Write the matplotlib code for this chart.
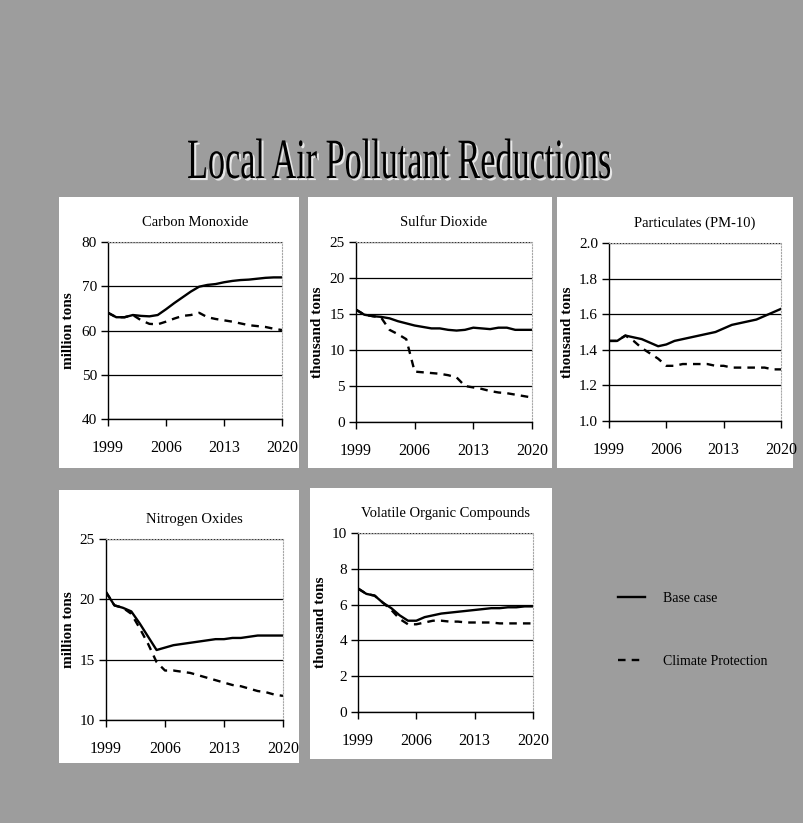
import matplotlib
matplotlib.use("Agg")
import matplotlib.pyplot as plt
from matplotlib.colors import to_rgba
from matplotlib.patches import Rectangle
from matplotlib.patheffects import AbstractPathEffect
from matplotlib.transforms import Affine2D

plt.rcParams["font.family"] = ["Liberation Serif", "DejaVu Serif"]

years = list(range(1999, 2021))
year_ticks = [1999, 2006, 2013, 2020]

co_base = [64.0, 63.0, 63.0, 63.5, 63.3, 63.2, 63.5, 64.8, 66.2, 67.5, 68.8,
           69.9, 70.3, 70.5, 70.9, 71.2, 71.4, 71.5, 71.7, 71.9, 72.0, 72.0]
co_climate = [64.0, 63.0, 63.0, 63.5, 62.3, 61.5, 61.4, 62.0, 62.7, 63.3, 63.5,
              64.0, 63.0, 62.6, 62.3, 62.0, 61.6, 61.2, 61.0, 60.8, 60.4, 60.1]

so2_base = [15.6, 14.9, 14.7, 14.6, 14.4, 14.0, 13.7, 13.4, 13.2, 13.0, 13.0,
            12.8, 12.7, 12.8, 13.1, 13.0, 12.9, 13.1, 13.1, 12.8, 12.8, 12.8]
so2_climate = [15.6, 14.9, 14.7, 14.5, 12.8, 12.2, 11.5, 7.0, 6.9, 6.8, 6.7,
               6.5, 6.2, 5.0, 4.8, 4.6, 4.3, 4.1, 4.0, 3.8, 3.6, 3.4]

pm_base = [1.45, 1.45, 1.48, 1.47, 1.46, 1.44, 1.42, 1.43, 1.45, 1.46, 1.47,
           1.48, 1.49, 1.50, 1.52, 1.54, 1.55, 1.56, 1.57, 1.59, 1.61, 1.63]
pm_climate = [1.45, 1.45, 1.48, 1.45, 1.41, 1.38, 1.35, 1.31, 1.31, 1.32, 1.32,
              1.32, 1.32, 1.31, 1.31, 1.30, 1.30, 1.30, 1.30, 1.30, 1.29, 1.29]

nox_base = [20.6, 19.5, 19.3, 19.0, 18.0, 16.9, 15.8, 16.0, 16.2, 16.3, 16.4,
            16.5, 16.6, 16.7, 16.7, 16.8, 16.8, 16.9, 17.0, 17.0, 17.0, 17.0]
nox_climate = [20.6, 19.5, 19.3, 18.8, 17.6, 16.3, 14.8, 14.1, 14.1, 14.0, 13.9,
               13.7, 13.5, 13.3, 13.1, 12.9, 12.8, 12.6, 12.4, 12.3, 12.1, 12.0]

voc_base = [6.9, 6.6, 6.5, 6.1, 5.8, 5.4, 5.1, 5.1, 5.3, 5.4, 5.5,
            5.55, 5.6, 5.65, 5.7, 5.75, 5.8, 5.8, 5.85, 5.85, 5.9, 5.9]
voc_climate = [6.9, 6.6, 6.5, 6.1, 5.7, 5.2, 4.9, 4.9, 5.0, 5.1, 5.1,
               5.05, 5.05, 5.0, 5.0, 5.0, 5.0, 4.95, 4.95, 4.95, 4.95, 4.95]

W, H = 804, 823
fig = plt.figure(figsize=(W / 100, H / 100), dpi=100)
fig.patch.set_facecolor("#9d9d9d")


def fbox(l, t, r, b):
    # pixel box (left, top, right, bottom) -> figure fraction rect
    return [l / W, 1 - b / H, (r - l) / W, (b - t) / H]


class Squeeze(AbstractPathEffect):
    """Narrow the glyphs horizontally around a fixed x (in pixels)."""

    def __init__(self, sx, cx, offset=(0, 0), color=None):
        super().__init__(offset)
        self.sx, self.cx = sx, cx
        self.color = None if color is None else to_rgba(color)

    def draw_path(self, renderer, gc, tpath, affine, rgbFace=None):
        squeeze = Affine2D().translate(-self.cx, 0).scale(self.sx, 1).translate(self.cx, 0)
        gc0 = renderer.new_gc()
        gc0.copy_properties(gc)
        if self.color is not None:
            gc0.set_foreground(self.color)
            rgbFace = self.color
        elif isinstance(rgbFace, str):
            rgbFace = to_rgba(rgbFace)
        renderer.draw_path(gc0, tpath, affine + squeeze + self._offset_transform(renderer), rgbFace)
        gc0.restore()


title_x = 399
fig.text(title_x / W, 1 - 164 / H, "Local Air Pollutant Reductions",
         ha="center", va="center", fontsize=41, color="black",
         path_effects=[Squeeze(0.6, title_x, offset=(1.5, -1.5), color="#e6e6e6"),
                       Squeeze(0.6, title_x)])

panels = [
    dict(title="Carbon Monoxide", ylabel="million tons", base=co_base, climate=co_climate,
         ylim=(40, 80), yticks=[40, 50, 60, 70, 80], fmt="{:.0f}",
         panel=(59, 197, 299, 468), axes=(108, 242, 282, 419), ylab_x=69),
    dict(title="Sulfur Dioxide", ylabel="thousand tons", base=so2_base, climate=so2_climate,
         ylim=(0, 25), yticks=[0, 5, 10, 15, 20, 25], fmt="{:.0f}",
         panel=(308, 197, 552, 468), axes=(356, 242, 532, 422), ylab_x=318),
    dict(title="Particulates (PM-10)", ylabel="thousand tons", base=pm_base, climate=pm_climate,
         ylim=(1.0, 2.0), yticks=[1.0, 1.2, 1.4, 1.6, 1.8, 2.0], fmt="{:.1f}",
         panel=(557, 197, 793, 468), axes=(609, 243, 781, 421), ylab_x=568),
    dict(title="Nitrogen Oxides", ylabel="million tons", base=nox_base, climate=nox_climate,
         ylim=(10, 25), yticks=[10, 15, 20, 25], fmt="{:.0f}",
         panel=(59, 490, 299, 763), axes=(106, 539, 283, 720), ylab_x=69),
    dict(title="Volatile Organic Compounds", ylabel="thousand tons", base=voc_base,
         climate=voc_climate, ylim=(0, 10), yticks=[0, 2, 4, 6, 8, 10], fmt="{:.0f}",
         panel=(310, 488, 552, 759), axes=(358, 533, 533, 712), ylab_x=321),
]

for p in panels:
    l, t, r, b = p["panel"]
    fig.add_artist(Rectangle((l / W, 1 - b / H), (r - l) / W, (b - t) / H,
                             transform=fig.transFigure, facecolor="white",
                             edgecolor="none", zorder=0))
    ax = fig.add_axes(fbox(*p["axes"]))
    ax.set_facecolor("white")
    base_line, = ax.plot(years, p["base"], color="black", lw=1.7,
                         solid_joinstyle="round", label="Base case")
    clim_line, = ax.plot(years, p["climate"], color="black", lw=1.7,
                         linestyle=(0, (3.2, 2.6)), label="Climate Protection")
    ax.set_xlim(1999, 2020)
    ax.set_xticks(year_ticks)
    ax.set_ylim(*p["ylim"])
    ax.set_yticks(p["yticks"])
    ax.set_yticklabels([p["fmt"].format(v) for v in p["yticks"]])
    ax.yaxis.grid(True, color="black", lw=0.9)
    ax.set_axisbelow(True)
    for side in ("top", "right"):
        ax.spines[side].set_color("#a8a8a8")
        ax.spines[side].set_linestyle(":")
    for side in ("left", "bottom"):
        ax.spines[side].set_color("black")
        ax.spines[side].set_linewidth(1.0)
    ax.tick_params(direction="out", length=5, width=1, labelsize=11.5, pad=10)
    ax.tick_params(axis="y", labelsize=11, pad=3)

    al, at, ar, ab = p["axes"]
    fig.text((al + ar) / 2 / W, 1 - (at - 20) / H, p["title"], ha="center",
             va="center", fontsize=10.5)
    fig.text(p["ylab_x"] / W, 1 - (at + ab) / 2 / H, p["ylabel"], ha="center",
             va="center", rotation=90, fontsize=11, fontweight="bold")

fig.legend([base_line, clim_line], ["Base case", "Climate Protection"],
           loc="center left", bbox_to_anchor=(605 / W, 1 - 630 / H),
           frameon=False, fontsize=10, handlelength=2.0, handletextpad=1.3,
           labelspacing=3.6)

fig.savefig("out.png", dpi=100, facecolor=fig.get_facecolor())
